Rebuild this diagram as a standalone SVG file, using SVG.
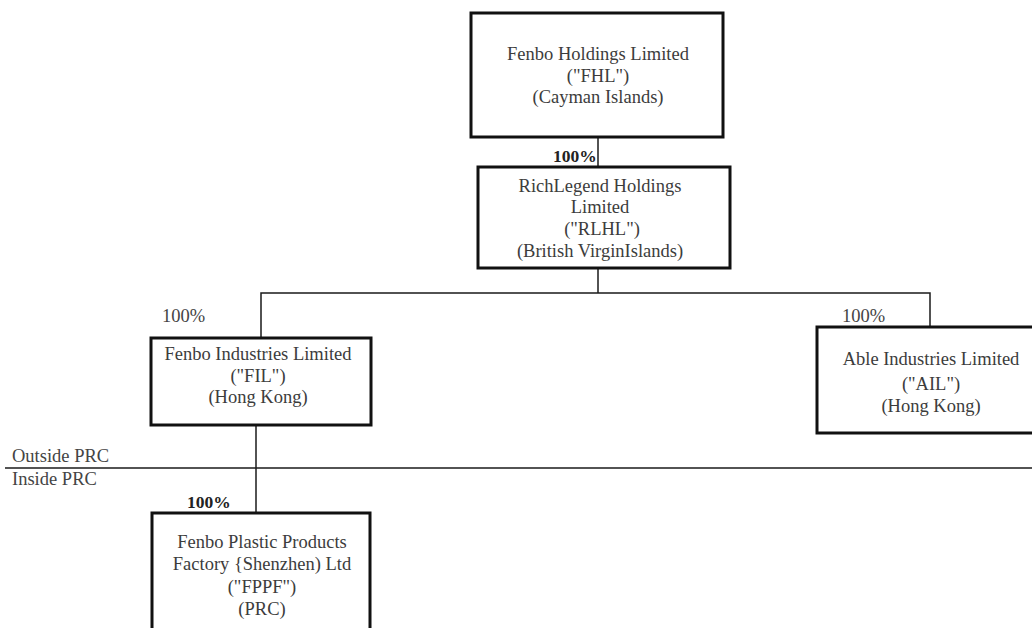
<svg xmlns="http://www.w3.org/2000/svg" width="1032" height="628" viewBox="0 0 1032 628">
<style>
.box{fill:#fff;stroke:#111;stroke-width:3}
.t{font-family:"Liberation Serif","Times New Roman",serif;font-size:18.5px;fill:#3c3c3c;text-anchor:middle}
.p{font-family:"Liberation Serif","Times New Roman",serif;font-size:18.5px;fill:#444}
.pb{font-family:"Liberation Serif","Times New Roman",serif;font-size:17.5px;font-weight:bold;fill:#222}
.c{fill:none;stroke:#1a1a1a;stroke-width:1.5}
</style>
<rect width="1032" height="628" fill="#fff"/>
<g id="connectors">
<line class="c" x1="598" y1="137" x2="598" y2="167"/>
<polyline class="c" points="598,268 598,293"/>
<polyline class="c" points="261,338 261,293 930,293 930,327"/>
<line class="c" x1="256" y1="425" x2="256" y2="513"/>
<line class="c" x1="5" y1="468" x2="1032" y2="468"/>
</g>
<g id="labels">
<text class="pb" x="553" y="162">100%</text>
<text class="p" x="162" y="322">100%</text>
<text class="p" x="842" y="322">100%</text>
<text class="pb" x="187" y="508">100%</text>
<text class="p" x="12" y="462">Outside PRC</text>
<text class="p" x="12" y="485">Inside PRC</text>
</g>
<g id="FHL">
<rect class="box" x="471" y="13" width="252" height="124"/>
<text class="t" x="598" y="60">Fenbo Holdings Limited</text>
<text class="t" x="598" y="82">("FHL")</text>
<text class="t" x="598" y="103">(Cayman Islands)</text>
</g>
<g id="RLHL">
<rect class="box" x="478" y="167" width="252" height="101"/>
<text class="t" x="600" y="192">RichLegend Holdings</text>
<text class="t" x="600" y="213">Limited</text>
<text class="t" x="602" y="235">("RLHL")</text>
<text class="t" x="600" y="257">(British VirginIslands)</text>
</g>
<g id="FIL">
<rect class="box" x="151" y="338" width="220" height="87"/>
<text class="t" x="258" y="360">Fenbo Industries Limited</text>
<text class="t" x="258" y="382">("FIL")</text>
<text class="t" x="258" y="403">(Hong Kong)</text>
</g>
<g id="AIL">
<rect class="box" x="817" y="327" width="230" height="106"/>
<text class="t" x="931" y="365">Able Industries Limited</text>
<text class="t" x="931" y="390">("AIL")</text>
<text class="t" x="931" y="412">(Hong Kong)</text>
</g>
<g id="FPPF">
<rect class="box" x="152" y="513" width="218" height="130"/>
<text class="t" x="262" y="548">Fenbo Plastic Products</text>
<text class="t" x="262" y="570">Factory {Shenzhen) Ltd</text>
<text class="t" x="262" y="593">("FPPF")</text>
<text class="t" x="262" y="615">(PRC)</text>
</g>
</svg>
